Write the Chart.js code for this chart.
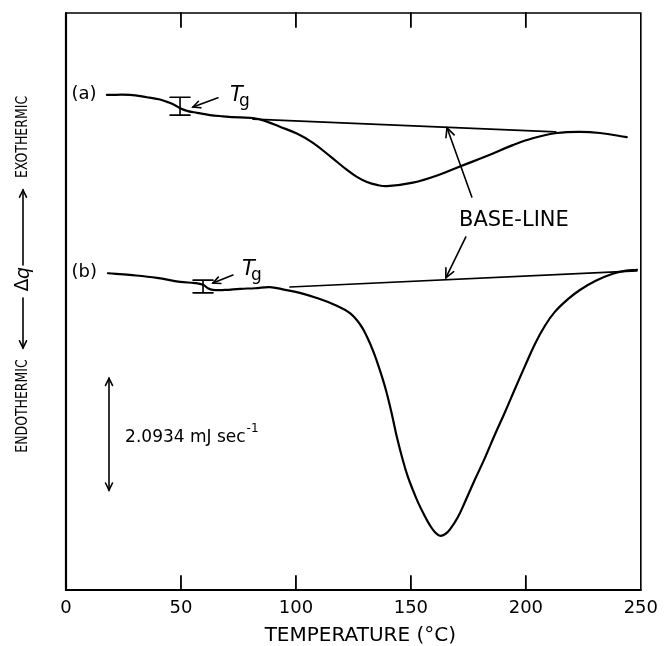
<!DOCTYPE html>
<html>
<head>
<meta charset="utf-8">
<script src="https://cdn.jsdelivr.net/npm/chart.js@4"></script>
<style>
  html, body { margin: 0; padding: 0; background: #fff; }
  #wrap { width: 666px; height: 646px; }
</style>
</head>
<body>
<div id="wrap"><canvas id="dsc" width="666" height="646"></canvas></div>
<script>
// DSC traces (x = temperature in °C, y = arbitrary heat-flow units)
const tempA = [17.8, 27.8, 35.2, 40.9, 43.9, 47.0, 49.6, 53.0, 57.0, 62.6, 68.3, 75.7, 81.3, 86.5, 93.0, 100.4, 107.4, 114.8, 122.2, 126.5, 130.9, 135.2, 139.6, 150.9, 162.6, 171.3, 183.0, 194.3, 203.0, 213.5, 223.5, 232.2, 243.9];
const heatA = [85.8, 85.8, 85.4, 85.0, 84.6, 84.1, 83.5, 83.0, 82.7, 82.3, 82.1, 81.9, 81.8, 81.3, 80.3, 79.1, 77.5, 75.2, 72.8, 71.6, 70.7, 70.2, 70.0, 70.6, 72.0, 73.4, 75.2, 77.1, 78.3, 79.2, 79.4, 79.2, 78.5];

const tempB = [18.3, 27.8, 39.6, 49.6, 56.1, 59.6, 61.7, 63.9, 69.1, 75.7, 82.2, 88.7, 94.3, 101.7, 109.1, 117.0, 123.5, 127.8, 130.9, 133.9, 136.5, 139.1, 141.7, 143.9, 146.5, 148.7, 150.9, 153.2, 155.8, 158.3, 160.5, 162.6, 165.0, 167.0, 170.4, 173.9, 177.8, 182.2, 186.5, 190.9, 195.2, 199.6, 203.9, 208.3, 212.6, 218.3, 223.5, 230.4, 237.8, 243.0, 248.3];
const heatB = [54.9, 54.6, 54.1, 53.4, 53.2, 52.9, 52.3, 52.0, 52.0, 52.2, 52.3, 52.5, 52.1, 51.5, 50.6, 49.4, 48.0, 46.1, 43.9, 41.1, 38.1, 34.7, 30.5, 26.5, 22.5, 19.6, 17.3, 15.1, 13.0, 11.2, 10.0, 9.4, 9.7, 10.5, 12.6, 15.6, 19.1, 22.9, 26.9, 30.8, 34.8, 38.8, 42.6, 45.8, 48.2, 50.4, 52.0, 53.6, 54.8, 55.3, 55.5];

// base-lines drawn under each peak
const baseTempA = [81.3, 213.0];
const baseHeatA = [81.6, 79.4];
const baseTempB = [97.4, 248.3];
const baseHeatB = [52.5, 55.3];

const xTicks = [0, 50, 100, 150, 200, 250];

const toPts = (xs, ys) => xs.map((x, i) => ({ x, y: ys[i] }));

const FONT = '"DejaVu Sans", "Liberation Sans", sans-serif';

function arrowHead(ctx, x1, y1, x2, y2, len) {
  const a = Math.atan2(y2 - y1, x2 - x1);
  ctx.beginPath();
  ctx.moveTo(x2 - len * Math.cos(a - 0.45), y2 - len * Math.sin(a - 0.45));
  ctx.lineTo(x2, y2);
  ctx.lineTo(x2 - len * Math.cos(a + 0.45), y2 - len * Math.sin(a + 0.45));
  ctx.stroke();
}

function arrow(ctx, x1, y1, x2, y2, len) {
  ctx.beginPath();
  ctx.moveTo(x1, y1);
  ctx.lineTo(x2, y2);
  ctx.stroke();
  arrowHead(ctx, x1, y1, x2, y2, len || 8);
}

function squeezeText(ctx, text, x, y, sx) {
  ctx.save();
  ctx.translate(x, y);
  ctx.scale(sx, 1);
  ctx.fillText(text, 0, 0);
  ctx.restore();
}

const decorations = {
  id: 'decorations',
  afterDraw(chart) {
    const { ctx, chartArea: ca, scales } = chart;
    const X = v => scales.x.getPixelForValue(v);
    const Y = v => scales.y.getPixelForValue(v);

    ctx.save();
    ctx.strokeStyle = '#000';
    ctx.fillStyle = '#000';
    ctx.lineCap = 'round';

    // frame
    ctx.lineWidth = 2.2;
    ctx.beginPath();
    ctx.moveTo(ca.left, ca.top);
    ctx.lineTo(ca.left, ca.bottom);
    ctx.lineTo(ca.right, ca.bottom);
    ctx.stroke();
    ctx.lineWidth = 1.6;
    ctx.beginPath();
    ctx.moveTo(ca.left, ca.top);
    ctx.lineTo(ca.right, ca.top);
    ctx.lineTo(ca.right, ca.bottom);
    ctx.stroke();

    // inward ticks, top and bottom
    ctx.lineWidth = 1.8;
    xTicks.slice(1, -1).forEach(t => {
      const x = X(t);
      ctx.beginPath();
      ctx.moveTo(x, ca.bottom); ctx.lineTo(x, ca.bottom - 14);
      ctx.moveTo(x, ca.top); ctx.lineTo(x, ca.top + 14);
      ctx.stroke();
    });

    // curve labels
    ctx.font = '18px ' + FONT;
    ctx.textBaseline = 'middle';
    ctx.textAlign = 'left';
    ctx.fillText('(a)', X(2.4), Y(85.9));
    ctx.fillText('(b)', X(2.4), Y(55.0));

    // Tg I-beams
    ctx.lineWidth = 1.6;
    [[49.6, 85.4, 82.3], [59.6, 53.7, 51.5]].forEach(([t, hi, lo]) => {
      const x = X(t);
      ctx.beginPath();
      ctx.moveTo(x, Y(hi)); ctx.lineTo(x, Y(lo));
      ctx.moveTo(x - 10, Y(hi)); ctx.lineTo(x + 10, Y(hi));
      ctx.moveTo(x - 10, Y(lo)); ctx.lineTo(x + 10, Y(lo));
      ctx.stroke();
    });
    // Tg arrows and text
    arrow(ctx, X(66.1), Y(85.3), X(55.2), Y(83.7), 8);
    arrow(ctx, X(72.6), Y(54.6), X(63.9), Y(53.2), 8);
    ctx.textBaseline = 'alphabetic';
    [[71.3, 84.7], [76.5, 54.6]].forEach(([t, q]) => {
      ctx.font = 'italic 21px ' + FONT;
      ctx.fillText('T', X(t), Y(q));
      ctx.font = '17px ' + FONT;
      ctx.fillText('g', X(t) + 9, Y(q) + 5);
    });

    // BASE-LINE label with arrows
    ctx.font = '21px ' + FONT;
    ctx.textAlign = 'center';
    ctx.textBaseline = 'middle';
    squeezeText(ctx, 'BASE-LINE', X(194.8), Y(64.1), 1.0);
    ctx.lineWidth = 1.6;
    arrow(ctx, X(176.5), Y(68.1), X(165.7), Y(80.1), 10);
    arrow(ctx, X(173.9), Y(61.2), X(165.2), Y(54.1), 10);

    // scale bar
    const sx = X(18.7), sTop = Y(36.7), sBot = Y(17.3);
    arrow(ctx, sx, sBot, sx, sTop, 8);
    arrowHead(ctx, sx, sTop, sx, sBot, 8);
    ctx.textAlign = 'left';
    ctx.font = '17px ' + FONT;
    const label = '2.0934 mJ sec';
    const tx = X(25.7), ty = Y(26.5);
    ctx.fillText(label, tx, ty);
    const w = ctx.measureText(label).width;
    ctx.font = '12px ' + FONT;
    ctx.fillText('-1', tx + w + 1, ty - 8);

    // vertical Δq label on the left
    ctx.save();
    ctx.translate(ca.left - 43, 0);
    ctx.rotate(-Math.PI / 2);
    ctx.textAlign = 'center';
    ctx.textBaseline = 'middle';
    ctx.font = '16px ' + FONT;
    squeezeText(ctx, 'EXOTHERMIC', -137, 0, 0.78);
    squeezeText(ctx, 'ENDOTHERMIC', -406, 0, 0.78);
    ctx.font = '19px ' + FONT;
    ctx.fillText('Δ', -285, 0);
    ctx.font = 'italic 19px ' + FONT;
    ctx.fillText('q', -273, 1);
    ctx.lineWidth = 1.6;
    arrow(ctx, -265, 0, -190, 0, 8);
    arrow(ctx, -298, 0, -348, 0, 8);
    ctx.restore();

    // x-axis title
    ctx.font = '20px ' + FONT;
    ctx.textAlign = 'center';
    ctx.textBaseline = 'middle';
    ctx.fillText('TEMPERATURE (°C)', X(128), chart.height - 10);

    ctx.restore();
  }
};

const lineStyle = {
  showLine: true,
  pointRadius: 0,
  borderColor: '#000',
  backgroundColor: '#000',
  borderCapStyle: 'round',
  borderJoinStyle: 'round',
  fill: false
};

new Chart(document.getElementById('dsc'), {
  type: 'scatter',
  data: {
    datasets: [
      { ...lineStyle, label: '(a)', data: toPts(tempA, heatA), borderWidth: 2.2, tension: 0.4 },
      { ...lineStyle, label: '(b)', data: toPts(tempB, heatB), borderWidth: 2.2, tension: 0.4 },
      { ...lineStyle, label: 'base (a)', data: toPts(baseTempA, baseHeatA), borderWidth: 1.6 },
      { ...lineStyle, label: 'base (b)', data: toPts(baseTempB, baseHeatB), borderWidth: 1.6 }
    ]
  },
  options: {
    responsive: false,
    animation: false,
    layout: { padding: { left: 66, right: 25, top: 13, bottom: 0 } },
    plugins: { legend: { display: false }, tooltip: { enabled: false } },
    scales: {
      x: {
        type: 'linear',
        min: 0, max: 250,
        afterBuildTicks: s => { s.ticks = xTicks.map(v => ({ value: v })); },
        afterFit: s => { s.height = 56; },
        grid: { display: false, drawTicks: false },
        border: { display: false },
        ticks: { color: '#000', padding: 8, font: { size: 18, family: FONT } }
      },
      y: {
        type: 'linear',
        min: 0, max: 100,
        display: false
      }
    }
  },
  plugins: [decorations]
});
</script>
</body>
</html>
